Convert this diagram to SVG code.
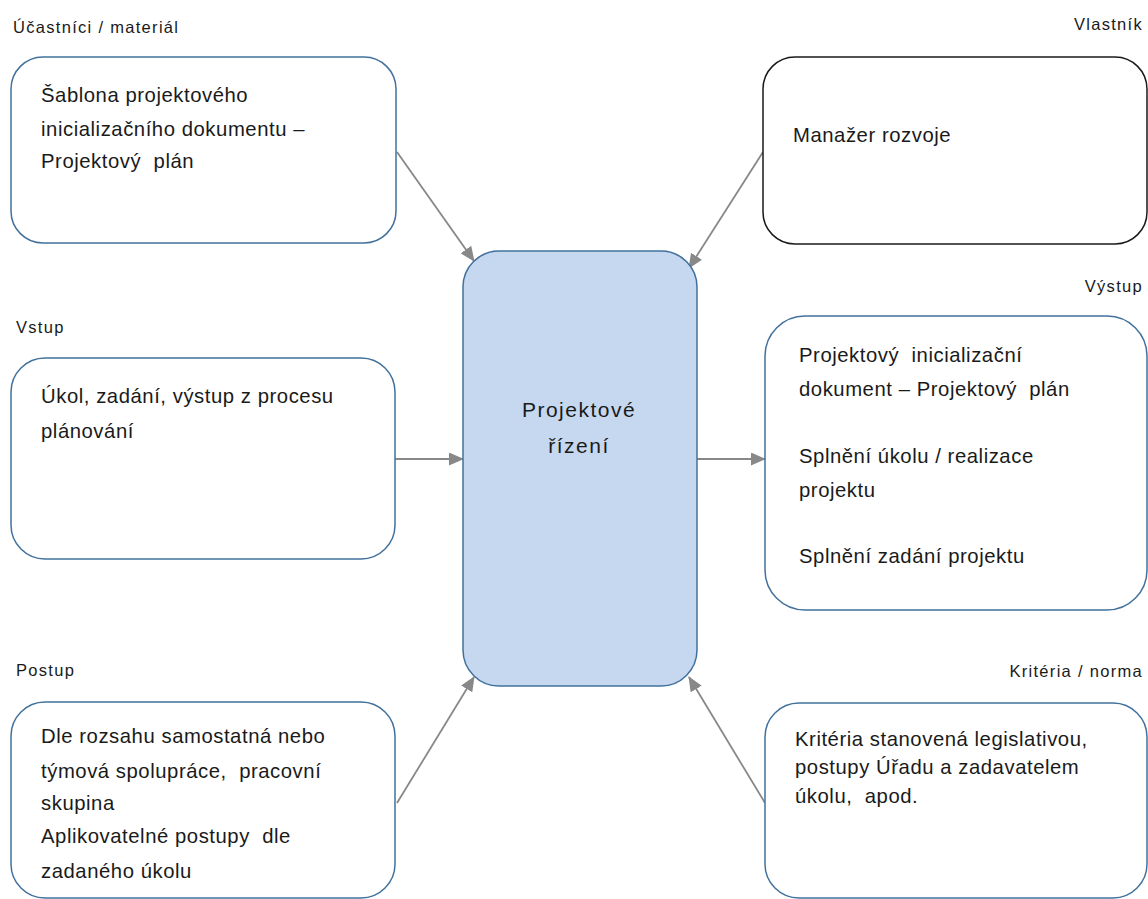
<svg xmlns="http://www.w3.org/2000/svg" width="1148" height="899" viewBox="0 0 1148 899">
<style>
.box{fill:#ffffff;stroke:#41719C;stroke-width:1.5}
.own{fill:#ffffff;stroke:#1a1a1a;stroke-width:1.5}
.core{fill:#C5D8EF;stroke:#41719C;stroke-width:1.5}
.t{font-family:"Liberation Sans",Arial,sans-serif;font-size:20.3px;letter-spacing:0.55px;fill:#1a1a1a;white-space:pre}
.lbl{font-family:"Liberation Sans",Arial,sans-serif;font-size:16.5px;letter-spacing:1.3px;fill:#1a1a1a}
.c{font-family:"Liberation Sans",Arial,sans-serif;font-size:21px;letter-spacing:1.5px;fill:#1a1a1a;text-anchor:middle}
.r{text-anchor:end}
.conn{stroke:#888888;stroke-width:1.8;fill:none;marker-end:url(#ah)}
</style>
<defs>
<marker id="ah" markerWidth="15" markerHeight="13" refX="14" refY="6.5" orient="auto" markerUnits="userSpaceOnUse">
<path d="M0,0 L15,6.5 L0,13 Z" fill="#888888"/>
</marker>
</defs>
<rect width="1148" height="899" fill="#ffffff"/>

<g id="connectors">
<line class="conn" x1="397" y1="152" x2="474" y2="261"/>
<line class="conn" x1="763" y1="152" x2="689" y2="268"/>
<line class="conn" x1="395" y1="459" x2="463" y2="459"/>
<line class="conn" x1="697" y1="459" x2="765" y2="459"/>
<line class="conn" x1="397" y1="803" x2="474" y2="677"/>
<line class="conn" x1="765" y1="803" x2="689" y2="677"/>
</g>

<g id="center">
<rect class="core" x="463" y="251" width="234" height="435" rx="36" ry="36"/>
<text class="c" x="579" y="417">Projektové</text>
<text class="c" x="579" y="453">řízení</text>
</g>

<g id="ucastnici">
<text class="lbl" x="13" y="33">Účastníci / materiál</text>
<rect class="box" x="11" y="57" width="385" height="186" rx="32" ry="32"/>
<text class="t" x="41" y="102">Šablona projektového</text>
<text class="t" x="41" y="136">inicializačního dokumentu –</text>
<text class="t" x="41" y="168">Projektový  plán</text>
</g>

<g id="vlastnik">
<text class="lbl r" x="1143" y="30">Vlastník</text>
<rect class="own" x="763" y="57" width="384" height="187" rx="32" ry="32"/>
<text class="t" x="793" y="142">Manažer rozvoje</text>
</g>

<g id="vstup">
<text class="lbl" x="16" y="333">Vstup</text>
<rect class="box" x="11" y="358" width="384" height="201" rx="34" ry="34"/>
<text class="t" x="41" y="403">Úkol, zadání, výstup z procesu</text>
<text class="t" x="41" y="438">plánování</text>
</g>

<g id="vystup">
<text class="lbl r" x="1143" y="292">Výstup</text>
<rect class="box" x="765" y="316" width="382" height="294" rx="40" ry="40"/>
<text class="t" x="799" y="362">Projektový  inicializační</text>
<text class="t" x="799" y="396">dokument – Projektový  plán</text>
<text class="t" x="799" y="463">Splnění úkolu / realizace</text>
<text class="t" x="799" y="497">projektu</text>
<text class="t" x="799" y="563">Splnění zadání projektu</text>
</g>

<g id="postup">
<text class="lbl" x="16" y="676">Postup</text>
<rect class="box" x="11" y="702" width="384" height="196" rx="34" ry="34"/>
<text class="t" x="41" y="743">Dle rozsahu samostatná nebo</text>
<text class="t" x="41" y="778">týmová spolupráce,  pracovní</text>
<text class="t" x="41" y="810">skupina</text>
<text class="t" x="41" y="843">Aplikovatelné postupy  dle</text>
<text class="t" x="41" y="878">zadaného úkolu</text>
</g>

<g id="kriteria">
<text class="lbl r" x="1143" y="677">Kritéria / norma</text>
<rect class="box" x="765" y="703" width="382" height="195" rx="34" ry="34"/>
<text class="t" x="795" y="746">Kritéria stanovená legislativou,</text>
<text class="t" x="795" y="774">postupy Úřadu a zadavatelem</text>
<text class="t" x="795" y="803">úkolu,  apod.</text>
</g>
</svg>
